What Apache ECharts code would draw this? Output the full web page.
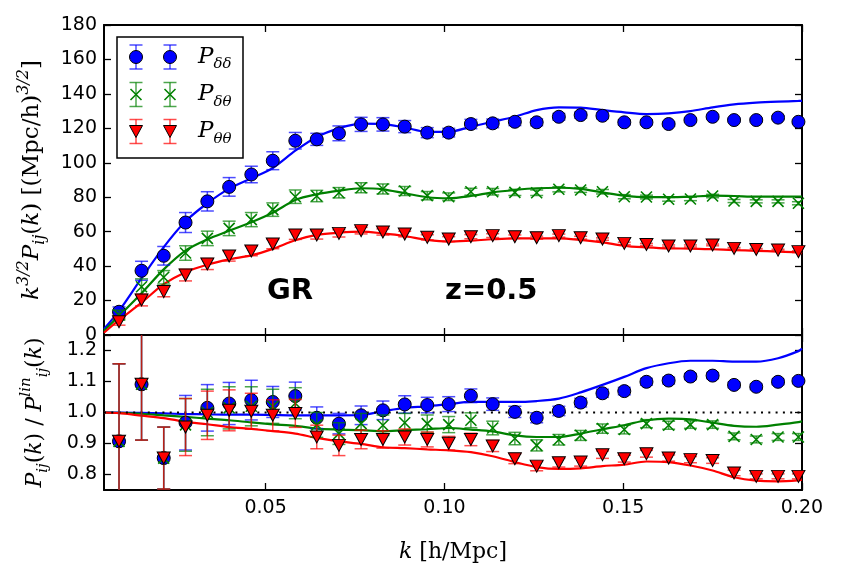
<!DOCTYPE html>
<html><head><meta charset="utf-8">
<script src="https://cdn.jsdelivr.net/npm/echarts@6/dist/echarts.min.js"></script>
<style>html,body{margin:0;padding:0;background:#fff}#c{width:841px;height:569px}</style>
</head><body><div id="c"></div>
<script>
// ---------- data ----------
const XMIN = 0.0048, XMAX = 0.2;
const xTicks = [0.05, 0.10, 0.15, 0.20];
const yTopTicks = [0, 20, 40, 60, 80, 100, 120, 140, 160, 180];
const yBotTicks = [0.8, 0.9, 1.0, 1.1, 1.2];

const kVals = [0.0090, 0.0153, 0.0215, 0.0276, 0.0337, 0.0398, 0.0460, 0.0520, 0.0583, 0.0643,
  0.0705, 0.0767, 0.0828, 0.0889, 0.0952, 0.1012, 0.1074, 0.1135, 0.1197, 0.1258,
  0.1320, 0.1381, 0.1442, 0.1503, 0.1565, 0.1627, 0.1688, 0.1750, 0.1810, 0.1872,
  0.1933, 0.1990];

// top panel: k^{3/2} P(k)
const pDD = [13.5, 37.3, 46.0, 65.3, 77.6, 86.0, 93.2, 101.2, 112.8, 113.6, 117.1, 122.3, 122.3, 121.0, 117.5, 117.5,
  122.5, 122.9, 123.8, 123.5, 126.7, 127.7, 127.3, 123.5, 123.5, 122.5, 124.8, 126.7, 124.8, 124.8, 126.2, 123.8];
const pDT = [11.6, 28.0, 33.5, 47.6, 56.1, 61.9, 67.0, 72.8, 80.3, 80.7, 82.6, 85.5, 84.8, 83.6, 80.9, 80.3,
  83.2, 83.2, 82.8, 82.6, 84.6, 84.2, 83.2, 80.3, 80.1, 78.8, 79.0, 80.7, 77.8, 77.6, 77.6, 76.5];
const pTT = [7.7, 20.3, 25.2, 34.8, 41.2, 45.9, 48.8, 52.8, 58.1, 58.1, 59.0, 60.6, 59.8, 58.6, 56.7, 55.7,
  57.1, 57.7, 57.1, 56.5, 57.7, 56.5, 55.7, 53.2, 52.6, 51.7, 51.7, 52.3, 50.3, 49.7, 49.3, 48.4];
const eDDtop = [2.8, 5.5, 5.4, 5.8, 5.6, 5.4, 4.8, 5.2, 4.8, 3.5, 4.3, 4.1, 3.9, 3.5, 2.9, 2.5,
  2.7, 2.5, 2.2, 2.0, 1.9, 1.8, 1.7, 1.5, 1.4, 1.3, 1.3, 1.3, 1.1, 1.1, 1.1, 1.1];
const eDTtop = [2.8, 4.6, 3.9, 4.2, 4.2, 4.2, 4.1, 3.9, 3.9, 3.3, 3.0, 2.9, 2.9, 2.6, 2.4, 2.2,
  2.0, 1.9, 1.8, 1.6, 1.5, 1.4, 1.3, 1.2, 1.1, 1.1, 1.0, 1.0, 0.9, 0.9, 0.9, 0.9];
const eTTtop = [2.0, 3.4, 3.0, 3.4, 3.2, 3.0, 2.8, 2.7, 2.6, 2.4, 2.1, 1.9, 1.8, 1.6, 1.5, 1.4,
  1.2, 1.1, 1.0, 0.9, 0.9, 0.8, 0.7, 0.7, 0.6, 0.6, 0.6, 0.5, 0.5, 0.5, 0.5, 0.5];

// theory curves (sampled at XMIN, kVals..., XMAX)
const curveDD = [3.5, 14, 33, 51, 66, 76.5, 85, 91, 97, 107, 115, 120, 122.7, 122.5, 120.5, 118, 118,
  120.9, 123.8, 126.7, 130.6, 132.2, 132.0, 130.6, 129.3, 128.3, 128.7, 130.0, 132.2, 133.9, 134.9, 135.5, 135.9, 136.0];
const curveDT = [2.5, 11, 24.2, 38.1, 49, 55.5, 60.5, 65.5, 71, 78.4, 81.7, 83.8, 85.2, 84.6, 82.3, 80, 79.4,
  80.7, 82.8, 84.2, 85.2, 85.5, 84.8, 82.8, 80.9, 80.0, 80.0, 80.3, 80.9, 80.7, 80.3, 80.3, 80.3, 80.3];
const curveTT = [1.3, 8.7, 18.8, 29.5, 36.5, 40.8, 43.9, 46.2, 50, 55, 58.1, 59.4, 60.0, 59.0, 57.5, 55.2, 54.2,
  54.8, 55.6, 56.1, 56.1, 56.1, 55.2, 53.8, 51.8, 50.9, 50.3, 50.2, 49.8, 49.3, 48.9, 48.4, 48.0, 47.4];

// bottom panel: P / P_lin
const rDD = [0.907, 1.091, 0.853, 0.967, 1.015, 1.029, 1.040, 1.034, 1.053, 0.983, 0.964, 0.991, 1.007, 1.026, 1.024, 1.027,
  1.054, 1.027, 1.002, 0.983, 1.005, 1.032, 1.062, 1.069, 1.099, 1.103, 1.116, 1.119, 1.089, 1.083, 1.099, 1.102];
const rDT = [0.907, 1.091, 0.853, 0.960, 1.000, 1.015, 1.020, 1.020, 1.030, 0.960, 0.932, 0.964, 0.959, 0.967, 0.964, 0.961,
  0.975, 0.950, 0.916, 0.894, 0.912, 0.926, 0.948, 0.945, 0.964, 0.959, 0.961, 0.961, 0.923, 0.913, 0.921, 0.921];
const rTT = [0.907, 1.091, 0.853, 0.953, 0.991, 1.007, 1.004, 0.991, 0.997, 0.921, 0.894, 0.913, 0.913, 0.921, 0.913, 0.901,
  0.913, 0.892, 0.851, 0.827, 0.838, 0.840, 0.864, 0.851, 0.867, 0.853, 0.848, 0.845, 0.805, 0.794, 0.794, 0.794];
const eDDbot = [0.25, 0.18, 0.10, 0.088, 0.075, 0.068, 0.064, 0.050, 0.045, 0.035, 0.033, 0.030, 0.030, 0.028, 0.025, 0.024,
  0.022, 0.020, 0.018, 0.016, 0.015, 0.014, 0.013, 0.012, 0.011, 0.011, 0.010, 0.010, 0.009, 0.009, 0.009, 0.009];
const eDTbot = [0.25, 0.18, 0.10, 0.085, 0.075, 0.068, 0.063, 0.055, 0.050, 0.040, 0.035, 0.033, 0.033, 0.030, 0.028, 0.026,
  0.024, 0.022, 0.020, 0.018, 0.017, 0.016, 0.015, 0.014, 0.013, 0.013, 0.012, 0.012, 0.011, 0.011, 0.011, 0.011];
const eTTbot = [0.25, 0.18, 0.10, 0.092, 0.078, 0.066, 0.058, 0.050, 0.045, 0.038, 0.033, 0.030, 0.028, 0.026, 0.024, 0.022,
  0.020, 0.018, 0.016, 0.015, 0.014, 0.013, 0.012, 0.011, 0.011, 0.010, 0.010, 0.009, 0.009, 0.008, 0.008, 0.008];
const rcurveDD = [1.0, 1.0, 0.999, 0.997, 0.995, 0.994, 0.993, 0.993, 0.992, 0.991, 0.991, 0.991, 0.992, 1.004, 1.015, 1.020, 1.027,
  1.034, 1.034, 1.034, 1.037, 1.045, 1.065, 1.089, 1.115, 1.143, 1.159, 1.167, 1.167, 1.164, 1.164, 1.175, 1.198, 1.206];
const rcurveDT = [1.0, 0.999, 0.996, 0.991, 0.986, 0.980, 0.975, 0.968, 0.962, 0.957, 0.948, 0.945, 0.943, 0.939, 0.943, 0.946, 0.950,
  0.945, 0.939, 0.926, 0.921, 0.921, 0.932, 0.946, 0.959, 0.975, 0.980, 0.978, 0.967, 0.957, 0.954, 0.961, 0.969, 0.972];
const rcurveTT = [1.0, 0.998, 0.990, 0.982, 0.970, 0.962, 0.953, 0.947, 0.940, 0.932, 0.918, 0.907, 0.899, 0.888, 0.885, 0.881, 0.878,
  0.872, 0.859, 0.840, 0.824, 0.818, 0.820, 0.827, 0.832, 0.842, 0.840, 0.829, 0.813, 0.791, 0.780, 0.778, 0.781, 0.783];

const seriesNames = ['δδ', 'δθ', 'θθ'];
const colors = ['#0000ff', '#008000', '#ff0000'];

// ---------- build ----------
const kCurve = [XMIN].concat(kVals, [XMAX]);
const pairs = (xs, ys) => xs.map((x, i) => [x, ys[i]]);
const triples = (xs, ys, es) => xs.map((x, i) => [x, ys[i], es[i]]);

const F_TICK = 'DejaVu Sans';
const F_MATH = 'DejaVu Serif';

function errRender(color) {
  return function (params, api) {
    const x = api.value(0), y = api.value(1), e = api.value(2);
    const a = api.coord([x, y + e]), b = api.coord([x, y - e]);
    const w = 6.5;
    const st = { stroke: color, lineWidth: 1.5, opacity: 0.7 };
    return { type: 'group', children: [
      { type: 'line', shape: { x1: a[0], y1: a[1], x2: b[0], y2: b[1] }, style: st },
      { type: 'line', shape: { x1: a[0] - w, y1: a[1], x2: a[0] + w, y2: a[1] }, style: st },
      { type: 'line', shape: { x1: b[0] - w, y1: b[1], x2: b[0] + w, y2: b[1] }, style: st }
    ] };
  };
}
const XPATH = 'path://M0,0L10,10M10,0L0,10';
function markerOpts(i) {
  if (i === 0) return { symbol: 'circle', symbolSize: 13, itemStyle: { color: colors[0], borderColor: '#000', borderWidth: 1, opacity: 1 } };
  if (i === 1) return { symbol: XPATH, symbolSize: 11, itemStyle: { color: 'none', borderColor: colors[1], borderWidth: 1.6, opacity: 1 } };
  return { symbol: 'triangle', symbolRotate: 180, symbolSize: [13, 12], itemStyle: { color: colors[2], borderColor: '#000', borderWidth: 1, opacity: 1 } };
}

const topVals = [pDD, pDT, pTT], topErr = [eDDtop, eDTtop, eTTtop], topCurve = [curveDD, curveDT, curveTT];
const botVals = [rDD, rDT, rTT], botErr = [eDDbot, eDTbot, eTTbot], botCurve = [rcurveDD, rcurveDT, rcurveTT];

const series = [];
for (let p = 0; p < 2; p++) {
  const vals = p === 0 ? topVals : botVals, errs = p === 0 ? topErr : botErr, curves = p === 0 ? topCurve : botCurve;
  const xi = p === 0 ? 0 : 2, yi = p === 0 ? 0 : 2;
  for (let i = 0; i < 3; i++) {
    series.push({ type: 'line', name: 'theory ' + seriesNames[i], xAxisIndex: xi, yAxisIndex: yi,
      data: pairs(kCurve, curves[i]), smooth: 0.3, showSymbol: false, symbol: 'none', z: 2,
      lineStyle: { color: colors[i], width: 2.2 }, silent: true });
  }
  if (p === 1) {
    series.push({ type: 'line', name: 'unity', xAxisIndex: 2, yAxisIndex: 2, data: [[XMIN, 1], [XMAX, 1]],
      symbol: 'none', z: 3, silent: true, lineStyle: { color: '#000', width: 2, type: [2, 5.3] } });
  }
  for (let i = 0; i < 3; i++) {
    series.push({ type: 'custom', name: 'err ' + seriesNames[i], xAxisIndex: xi, yAxisIndex: yi,
      data: triples(kVals, vals[i], errs[i]), renderItem: errRender(colors[i]), clip: true, z: 4 + 2 * i, silent: true });
    series.push(Object.assign({ type: 'scatter', name: 'P' + seriesNames[i], xAxisIndex: xi, yAxisIndex: yi,
      data: pairs(kVals, vals[i]), z: 5 + 2 * i, silent: true }, markerOpts(i)));
  }
}

const frame = { show: true, onZero: false, lineStyle: { color: '#000', width: 2 } };
function xAx(grid, pos, labels) {
  return { type: 'value', gridIndex: grid, position: pos, min: XMIN, max: XMAX,
    axisLine: frame, splitLine: { show: false },
    axisTick: { show: true, inside: true, length: 7, customValues: xTicks, lineStyle: { color: '#000', width: 1.3 } },
    axisLabel: labels ? { show: true, customValues: xTicks, formatter: v => v.toFixed(2), margin: 9,
      color: '#000', fontFamily: F_TICK, fontSize: 19 } : { show: false } };
}
function yAx(grid, pos, min, max, ticks, labels, dec) {
  return { type: 'value', gridIndex: grid, position: pos, min: min, max: max,
    axisLine: frame, splitLine: { show: false },
    axisTick: { show: true, inside: true, length: 7, customValues: ticks, lineStyle: { color: '#000', width: 1.3 } },
    axisLabel: labels ? { show: true, customValues: ticks, showMinLabel: true, showMaxLabel: true,
      formatter: v => v.toFixed(dec), margin: 7, color: '#000', fontFamily: F_TICK, fontSize: 19 } : { show: false } };
}
const xAxes = [xAx(0, 'bottom', false), xAx(0, 'top', false), xAx(1, 'bottom', true), xAx(1, 'top', false)];
const yAxes = [yAx(0, 'left', 0, 180, yTopTicks, true, 0), yAx(0, 'right', 0, 180, yTopTicks, false, 0),
  yAx(1, 'left', 0.75, 1.25, yBotTicks, true, 1), yAx(1, 'right', 0.75, 1.25, yBotTicks, false, 1)];

const mathRich = (fs) => ({
  i: { fontFamily: F_MATH, fontStyle: 'italic', fontSize: fs, lineHeight: 32, verticalAlign: 'middle', color: '#000' },
  n: { fontFamily: F_MATH, fontSize: fs, lineHeight: 32, verticalAlign: 'middle', color: '#000' },
  sup: { fontFamily: F_MATH, fontStyle: 'italic', fontSize: Math.round(fs * 0.68), lineHeight: 16, verticalAlign: 'top', color: '#000' },
  sub: { fontFamily: F_MATH, fontStyle: 'italic', fontSize: Math.round(fs * 0.68), lineHeight: 13, verticalAlign: 'bottom', color: '#000' }
});

xAxes[2].name = '{i|k}{n| [h/Mpc]}';
xAxes[2].nameLocation = 'middle';
xAxes[2].nameGap = 46;
xAxes[2].nameTextStyle = { rich: mathRich(22) };
yAxes[0].name = '{i|k}{sup|3/2}{i|P}{sub|ij}{n|(}{i|k}{n|) [(Mpc/h)}{sup|3/2}{n|]}';
yAxes[0].nameLocation = 'middle';
yAxes[0].nameGap = 56;
yAxes[0].nameTextStyle = { rich: mathRich(23) };
yAxes[2].name = '{i|P}{sub|ij}{n|(}{i|k}{n|) / }{i|P}{sup|lin}{sub|ij}{n|(}{i|k}{n|)}';
yAxes[2].nameLocation = 'middle';
yAxes[2].nameGap = 53;
yAxes[2].nameTextStyle = { rich: mathRich(22) };

// ---------- legend (drawn as graphic) ----------
const legRowsY = [57, 94.5, 131.5], legXs = [136, 170];
const graphics = [{ type: 'rect', shape: { x: 117, y: 37, width: 126, height: 121 },
  style: { fill: '#fff', stroke: '#000', lineWidth: 1.5 }, z: 100 }];
for (let i = 0; i < 3; i++) {
  const cy = legRowsY[i];
  for (const cx of legXs) {
    const st = { stroke: colors[i], lineWidth: 1.5, opacity: 0.7 };
    graphics.push({ type: 'line', shape: { x1: cx, y1: cy - 12, x2: cx, y2: cy + 12 }, style: st, z: 101 });
    graphics.push({ type: 'line', shape: { x1: cx - 6.5, y1: cy - 12, x2: cx + 6.5, y2: cy - 12 }, style: st, z: 101 });
    graphics.push({ type: 'line', shape: { x1: cx - 6.5, y1: cy + 12, x2: cx + 6.5, y2: cy + 12 }, style: st, z: 101 });
    if (i === 0) graphics.push({ type: 'circle', shape: { cx: cx, cy: cy, r: 6.5 }, style: { fill: colors[0], stroke: '#000', lineWidth: 1 }, z: 102 });
    if (i === 1) {
      graphics.push({ type: 'line', shape: { x1: cx - 5.5, y1: cy - 5.5, x2: cx + 5.5, y2: cy + 5.5 }, style: { stroke: colors[1], lineWidth: 1.6 }, z: 102 });
      graphics.push({ type: 'line', shape: { x1: cx + 5.5, y1: cy - 5.5, x2: cx - 5.5, y2: cy + 5.5 }, style: { stroke: colors[1], lineWidth: 1.6 }, z: 102 });
    }
    if (i === 2) graphics.push({ type: 'polygon', shape: { points: [[cx - 6.5, cy - 6], [cx + 6.5, cy - 6], [cx, cy + 6]] }, style: { fill: colors[2], stroke: '#000', lineWidth: 1 }, z: 102 });
  }
  graphics.push({ type: 'text', x: 198, y: cy, z: 102, style: {
    text: '{p|P}{s|' + seriesNames[i] + '}', verticalAlign: 'middle',
    rich: { p: { fontFamily: F_MATH, fontStyle: 'italic', fontSize: 23, lineHeight: 30, verticalAlign: 'middle', fill: '#000' },
            s: { fontFamily: F_MATH, fontStyle: 'italic', fontSize: 15, lineHeight: 12, verticalAlign: 'bottom', fill: '#000' } } } });
}
graphics.push({ type: 'text', x: 267, y: 291, z: 50, style: { text: 'GR', fontFamily: F_TICK, fontWeight: 'bold', fontSize: 29, verticalAlign: 'middle', fill: '#000' } });
graphics.push({ type: 'text', x: 445, y: 291, z: 50, style: { text: 'z=0.5', fontFamily: F_TICK, fontWeight: 'bold', fontSize: 29, verticalAlign: 'middle', fill: '#000' } });

const chart = echarts.init(document.getElementById('c'), null, { renderer: 'canvas' });
chart.setOption({
  animation: false,
  backgroundColor: '#fff',
  grid: [{ left: 104, top: 25, width: 698, height: 310 }, { left: 104, top: 335, width: 698, height: 155 }],
  xAxis: xAxes, yAxis: yAxes, series: series, graphic: graphics
});
</script></body></html>
